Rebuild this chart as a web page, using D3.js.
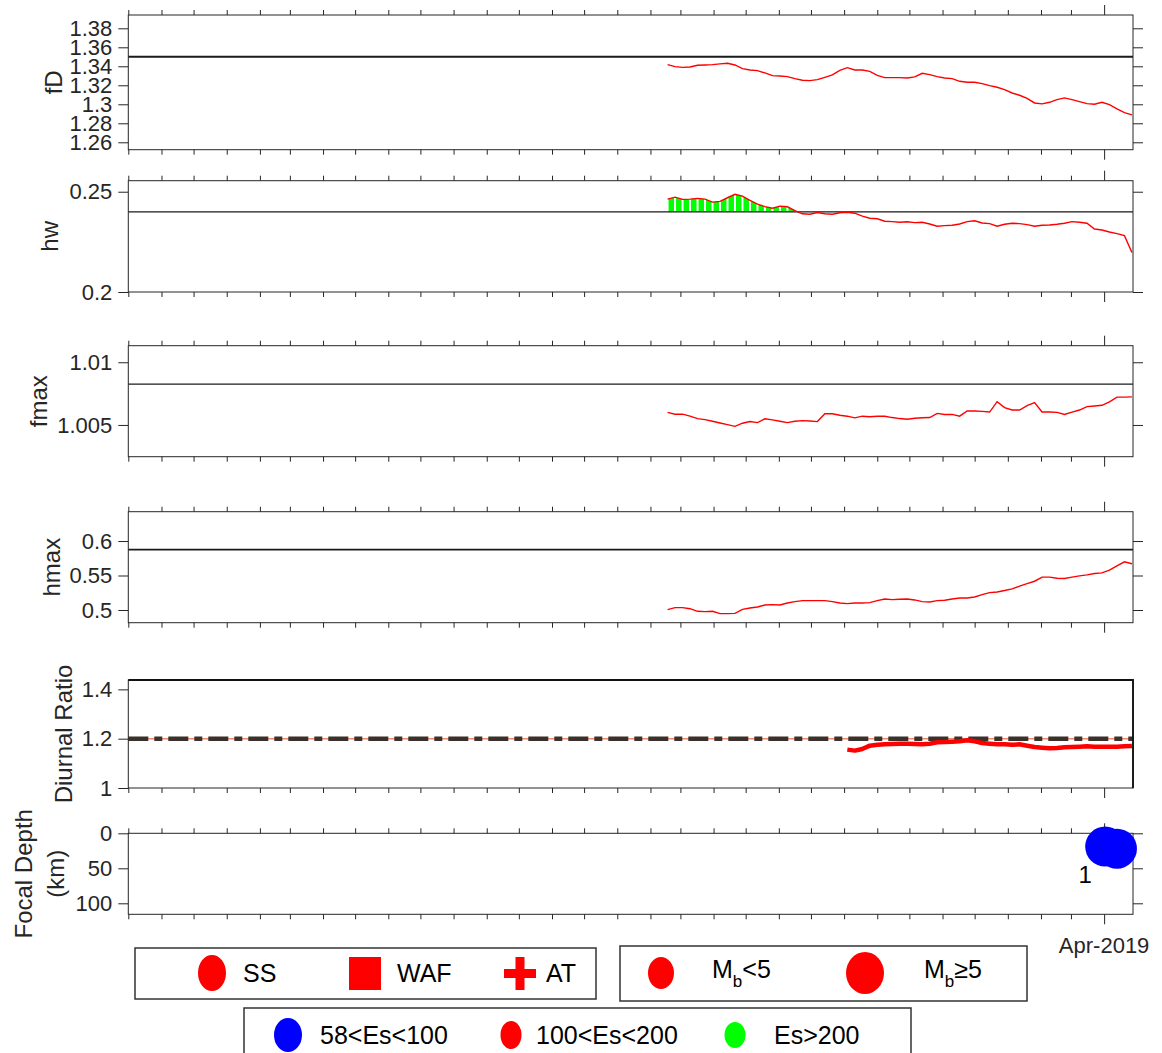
<!DOCTYPE html>
<html>
  <head>
    <meta charset="utf-8">
    <title>Ionospheric anomaly panels</title>
    <style>
      body { margin: 0; background: #fff; }
      svg text { font-family: "Liberation Sans", Arial, Helvetica, sans-serif; }
    </style>
  </head>
  <body>
    <div id="chart"></div>
    <script src="https://cdn.jsdelivr.net/npm/d3@7/dist/d3.min.js"></script>
    <script>

        // weekly samples, first one on this date
        var startDate = '2018-02-17';
        var stepDays = 7;
        var diurnalOffset = 24;   // diurnal ratio starts 24 weeks later

        var fD = [1.3418, 1.3396, 1.3389, 1.3393, 1.3411, 1.3414, 1.3418, 1.3425, 1.3432, 1.3414,
                  1.3375, 1.3361, 1.3354, 1.3330, 1.3302, 1.3298, 1.3291, 1.3270, 1.3253, 1.3249,
                  1.3260, 1.3284, 1.3309, 1.3358, 1.3386, 1.3361, 1.3361, 1.3347, 1.3305, 1.3281,
                  1.3281, 1.3281, 1.3277, 1.3288, 1.3326, 1.3312, 1.3291, 1.3277, 1.3270, 1.3242,
                  1.3232, 1.3232, 1.3218, 1.3196, 1.3179, 1.3154, 1.3119, 1.3095, 1.3063, 1.3014,
                  1.3004, 1.3021, 1.3049, 1.3067, 1.3049, 1.3028, 1.3007, 1.3000, 1.3021, 1.2996,
                  1.2951, 1.2912, 1.2888];

        var hw = [0.2463, 0.2473, 0.2462, 0.2463, 0.2467, 0.2463, 0.2448, 0.2452, 0.2470, 0.2487,
                  0.2478, 0.2457, 0.2438, 0.2426, 0.2418, 0.2428, 0.2425, 0.2406, 0.2390, 0.2388,
                  0.2396, 0.2390, 0.2388, 0.2395, 0.2398, 0.2393, 0.2378, 0.2368, 0.2365, 0.2353,
                  0.2351, 0.2348, 0.2350, 0.2346, 0.2348, 0.2339, 0.2328, 0.2331, 0.2333, 0.2339,
                  0.2351, 0.2355, 0.2344, 0.2341, 0.2328, 0.2338, 0.2343, 0.2341, 0.2336, 0.2328,
                  0.2333, 0.2334, 0.2338, 0.2343, 0.2351, 0.2348, 0.2343, 0.2314, 0.2309, 0.2299,
                  0.2291, 0.2281, 0.2197];

        var fmax = [1.00600, 1.00586, 1.00586, 1.00570, 1.00551, 1.00543, 1.00530, 1.00516, 1.00503, 1.00489,
                    1.00514, 1.00527, 1.00519, 1.00549, 1.00541, 1.00530, 1.00519, 1.00530, 1.00535, 1.00532,
                    1.00527, 1.00589, 1.00589, 1.00578, 1.00570, 1.00557, 1.00570, 1.00565, 1.00570, 1.00570,
                    1.00559, 1.00551, 1.00546, 1.00554, 1.00557, 1.00559, 1.00592, 1.00584, 1.00584, 1.00570,
                    1.00611, 1.00611, 1.00608, 1.00603, 1.00686, 1.00638, 1.00619, 1.00619, 1.00654, 1.00678,
                    1.00603, 1.00603, 1.00600, 1.00584, 1.00603, 1.00619, 1.00646, 1.00651, 1.00657, 1.00684,
                    1.00722, 1.00722, 1.00724];

        var hmax = [0.5005, 0.5034, 0.5034, 0.5019, 0.4981, 0.4976, 0.4981, 0.4947, 0.4947, 0.4951,
                    0.5010, 0.5029, 0.5044, 0.5073, 0.5078, 0.5073, 0.5102, 0.5121, 0.5136, 0.5136,
                    0.5136, 0.5136, 0.5121, 0.5102, 0.5092, 0.5102, 0.5102, 0.5107, 0.5136, 0.5160,
                    0.5150, 0.5155, 0.5160, 0.5146, 0.5121, 0.5117, 0.5136, 0.5141, 0.5160, 0.5175,
                    0.5175, 0.5189, 0.5223, 0.5252, 0.5262, 0.5282, 0.5306, 0.5345, 0.5383, 0.5417,
                    0.5476, 0.5476, 0.5461, 0.5456, 0.5476, 0.5495, 0.5510, 0.5529, 0.5539, 0.5578,
                    0.5641, 0.5699, 0.5670];

        var diurnal = [1.1556, 1.1515, 1.1582, 1.1717, 1.1758, 1.1771, 1.1785, 1.1798, 1.1798, 1.1785,
                       1.1771, 1.1798, 1.1852, 1.1865, 1.1879, 1.1892, 1.1933, 1.1892, 1.1825, 1.1798,
                       1.1771, 1.1771, 1.1758, 1.1771, 1.1717, 1.1663, 1.1636, 1.1609, 1.1623, 1.1650,
                       1.1663, 1.1677, 1.1690, 1.1677, 1.1677, 1.1677, 1.1677, 1.1690, 1.1704];

        // threshold lines
        var fDRef = 1.35, hwRef = 0.24, fmaxRef = 1.00825, hmaxRef = 0.5875, diurnalRef = 1.2;

        // earthquakes
        var quakeDates = ['2019-04-02', '2019-04-13'];
        var quakeDepths = [19, 22];
        var quakeLabel = '1';

        var fDTicks = [1.26, 1.28, 1.3, 1.32, 1.34, 1.36, 1.38];
        var hwTicks = [0.2, 0.25];
        var fmaxTicks = [1.005, 1.01];
        var hmaxTicks = [0.5, 0.55, 0.6];
        var diurnalTicks = [1, 1.2, 1.4];
        var depthTicks = [0, 50, 100];
        var xLabelDate = '2019-04-01';
        var xLabel = 'Apr-2019';

        var legendType = ['SS', 'WAF', 'AT'];
        var legendEs = ['58<Es<100', '100<Es<200', 'Es>200'];

        var width = 1162, height = 1053;
        var left = 128.3, right = 1133;
        var axisColor = '#262626';
        var parse = d3.utcParse('%Y-%m-%d');

        var dates = d3.range(fD.length).map(function(i) {
          return d3.utcDay.offset(parse(startDate), i * stepDays);
        });
        var diurnalDates = dates.slice(diurnalOffset, diurnalOffset + diurnal.length);

        var x = d3.scaleUtc()
          .domain([parse('2016-10-01'), parse('2019-04-28')])
          .range([left, right]);
        var months = d3.utcMonth.range(parse('2016-10-01'), parse('2019-04-29'));
        var major = +parse(xLabelDate);

        var svg = d3.select('#chart')
          .append('svg')
          .attr('width', width)
          .attr('height', height)
          .style('display', 'block');
        svg.append('rect').attr('width', width).attr('height', height).attr('fill', '#fff');

        function styleAxis(a) {
          a.select('.domain').remove();
          a.attr('font-family', null).attr('font-size', null);
          a.selectAll('line').attr('stroke', axisColor);
          a.selectAll('text').attr('fill', axisColor).style('font-size', '22px');
        }

        function xTicks(y0, top) {
          var ax = (top ? d3.axisTop(x) : d3.axisBottom(x))
            .tickValues(months).tickSize(5).tickFormat('');
          svg.append('g')
            .attr('transform', 'translate(0,' + y0 + ')')
            .call(ax)
            .call(styleAxis)
            .selectAll('.tick line')
            .filter(function(d) { return +d === major; })
            .attr('y2', top ? -10 : 10);
        }

        function frame(y, ticks, opts) {
          var r = y.range();
          var bottom = r[0], top = r[1];
          if (opts.reversed) { bottom = r[1]; top = r[0]; }
          svg.append('rect')
            .attr('x', left).attr('y', top)
            .attr('width', right - left).attr('height', bottom - top)
            .attr('fill', 'none').attr('stroke', axisColor).attr('stroke-width', 1);

          svg.append('g')
            .attr('transform', 'translate(' + left + ',0)')
            .call(d3.axisLeft(y).tickValues(ticks).tickSize(10).tickPadding(6)
              .tickFormat(function(d) { return String(d); }))
            .call(styleAxis);

          if (opts.rightTicks) {
            svg.append('g')
              .attr('transform', 'translate(' + right + ',0)')
              .call(d3.axisRight(y).tickValues(ticks).tickSize(10).tickFormat(''))
              .call(styleAxis);
          }
          if (opts.topTicks) xTicks(top, true);
          xTicks(bottom, false);
        }

        function yLabel(lines, xs, cy) {
          lines.forEach(function(t, i) {
            svg.append('text')
              .attr('transform', 'translate(' + xs[i] + ',' + cy + ') rotate(-90)')
              .attr('text-anchor', 'middle')
              .style('font-size', '24px')
              .attr('fill', axisColor)
              .text(t);
          });
        }

        var line = d3.line().x(function(d) { return x(d[0]); });

        var panels = [
          { label: 'fD', values: fD, ref: fDRef, ticks: fDTicks, domain: [1.2522, 1.394], top: 15, bottom: 149.7, labelX: 62, refW: 2 },
          { label: 'hw', values: hw, ref: hwRef, ticks: hwTicks, domain: [0.2, 0.2555], top: 180.7, bottom: 292, labelX: 58, refW: 1.3, fill: true },
          { label: 'fmax', values: fmax, ref: fmaxRef, ticks: fmaxTicks, domain: [1.00247, 1.01132], top: 345.7, bottom: 456.7, labelX: 47, refW: 1.3 },
          { label: 'hmax', values: hmax, ref: hmaxRef, ticks: hmaxTicks, domain: [0.4816, 0.6425], top: 511.7, bottom: 622.7, labelX: 60, refW: 1.8 }
        ];

        panels.forEach(function(p, k) {
          var y = d3.scaleLinear().domain(p.domain).range([p.bottom, p.top]);
          var pts = p.values.map(function(v, i) { return [dates[i], v]; });
          var yRef = y(p.ref);

          if (p.fill) {
            // green stripes where hw sits above its threshold
            var clipId = 'above' + k;
            svg.append('clipPath').attr('id', clipId)
              .append('rect')
              .attr('x', left).attr('y', p.top)
              .attr('width', right - left).attr('height', yRef - p.top);
            var fg = svg.append('g').attr('clip-path', 'url(#' + clipId + ')');
            var area = d3.area()
              .x(function(d) { return x(d[0]); })
              .y0(yRef)
              .y1(function(d) { return y(d[1]); });
            d3.range(pts.length - 1).forEach(function(i) {
              fg.append('path')
                .attr('d', area([pts[i], pts[i + 1]]))
                .attr('fill', '#00ff00');
            });
            fg.selectAll('line.sep')
              .data(pts)
              .enter()
              .append('line')
              .attr('x1', function(d) { return x(d[0]); })
              .attr('x2', function(d) { return x(d[0]); })
              .attr('y1', yRef)
              .attr('y2', function(d) { return y(d[1]); })
              .attr('stroke', '#fff')
              .attr('stroke-width', 2);
          }

          svg.append('line')
            .attr('x1', left).attr('x2', right)
            .attr('y1', yRef).attr('y2', yRef)
            .attr('stroke', '#1a1a1a').attr('stroke-width', p.refW);

          svg.append('path')
            .datum(pts)
            .attr('d', line.y(function(d) { return y(d[1]); }))
            .attr('fill', 'none')
            .attr('stroke', '#ff0000')
            .attr('stroke-width', 1.4);

          frame(y, p.ticks, { rightTicks: true, topTicks: true });
          yLabel([p.label], [p.labelX], (p.top + p.bottom) / 2);
        });

        // diurnal ratio
        var yD = d3.scaleLinear().domain([1, 1.438]).range([788, 680]);
        svg.append('line')
          .attr('x1', left).attr('x2', right)
          .attr('y1', yD(diurnalRef)).attr('y2', yD(diurnalRef))
          .attr('stroke', '#ee8a66').attr('stroke-width', 1.5);
        svg.append('line')
          .attr('x1', left).attr('x2', right)
          .attr('y1', yD(diurnalRef)).attr('y2', yD(diurnalRef))
          .attr('stroke', '#3a302c').attr('stroke-width', 4.5)
          .attr('stroke-dasharray', '20,6,8,6');
        svg.append('path')
          .datum(diurnal.map(function(v, i) { return [diurnalDates[i], v]; }))
          .attr('d', line.y(function(d) { return yD(d[1]); }))
          .attr('fill', 'none')
          .attr('stroke', '#ff0000')
          .attr('stroke-width', 4.5)
          .attr('stroke-linejoin', 'round');
        frame(yD, diurnalTicks, { rightTicks: false, topTicks: false });
        svg.append('path')
          .attr('d', 'M' + left + ',680H' + right + 'V788')
          .attr('fill', 'none').attr('stroke', '#111').attr('stroke-width', 1.8);
        yLabel(['Diurnal Ratio'], [72], 734);

        // focal depth
        var yF = d3.scaleLinear().domain([0, 115.7]).range([833.3, 914.3]);
        frame(yF, depthTicks, { rightTicks: true, topTicks: true, reversed: true });
        svg.selectAll('circle.quake')
          .data(quakeDates)
          .enter()
          .append('circle')
          .attr('cx', function(d) { return x(parse(d)); })
          .attr('cy', function(d, i) { return yF(quakeDepths[i]); })
          .attr('r', 20)
          .attr('fill', '#0000ff');
        svg.append('text')
          .attr('x', x(parse(quakeDates[0])) - 20)
          .attr('y', yF(quakeDepths[0]) + 36)
          .attr('text-anchor', 'middle')
          .style('font-size', '24px')
          .attr('fill', '#000')
          .text(quakeLabel);
        yLabel(['Focal Depth', '(km)'], [32, 64], 873.8);

        svg.append('text')
          .attr('x', x(parse(xLabelDate)))
          .attr('y', 953)
          .attr('text-anchor', 'middle')
          .style('font-size', '22px')
          .attr('fill', axisColor)
          .text(xLabel);

        // legends
        var lg = svg.append('g');
        function box(x0, y0, w, h) {
          lg.append('rect').attr('x', x0).attr('y', y0).attr('width', w).attr('height', h)
            .attr('fill', '#fff').attr('stroke', '#333').attr('stroke-width', 1.5);
        }
        function label(tx, ty, t) {
          return lg.append('text').attr('x', tx).attr('y', ty)
            .style('font-size', '25px').attr('fill', '#000').text(t);
        }

        box(135, 948, 461, 51);
        lg.append('ellipse').attr('cx', 212).attr('cy', 973).attr('rx', 14).attr('ry', 18).attr('fill', '#ff0000');
        label(243, 982, legendType[0]);
        lg.append('rect').attr('x', 349).attr('y', 957).attr('width', 32).attr('height', 33).attr('fill', '#ff0000');
        label(397, 982, legendType[1]);
        lg.append('rect').attr('x', 504).attr('y', 969).attr('width', 32).attr('height', 9).attr('fill', '#ff0000');
        lg.append('rect').attr('x', 515.5).attr('y', 957).attr('width', 9).attr('height', 33).attr('fill', '#ff0000');
        label(546, 982, legendType[2]);

        box(620, 946, 407, 55);
        lg.append('ellipse').attr('cx', 661).attr('cy', 973).attr('rx', 13).attr('ry', 16).attr('fill', '#ff0000');
        lg.append('ellipse').attr('cx', 865).attr('cy', 973).attr('rx', 19).attr('ry', 21).attr('fill', '#ff0000');
        [[712, '<5'], [924, '\u22655']].forEach(function(m) {
          var t = label(m[0], 978, 'M');
          t.append('tspan').attr('dy', 9).style('font-size', '17px').text('b');
          t.append('tspan').attr('dy', -9).text(m[1]);
        });

        box(244, 1008, 667, 60);
        var esColors = ['#0000ff', '#ff0000', '#00ff00'];
        var esPos = [[288, 14, 17, 320], [511, 10.5, 14, 536], [735, 10.5, 13, 774]];
        legendEs.forEach(function(t, i) {
          lg.append('ellipse').attr('cx', esPos[i][0]).attr('cy', 1035)
            .attr('rx', esPos[i][1]).attr('ry', esPos[i][2]).attr('fill', esColors[i]);
          label(esPos[i][3], 1044, t);
        });

    </script>
  </body>
</html>
